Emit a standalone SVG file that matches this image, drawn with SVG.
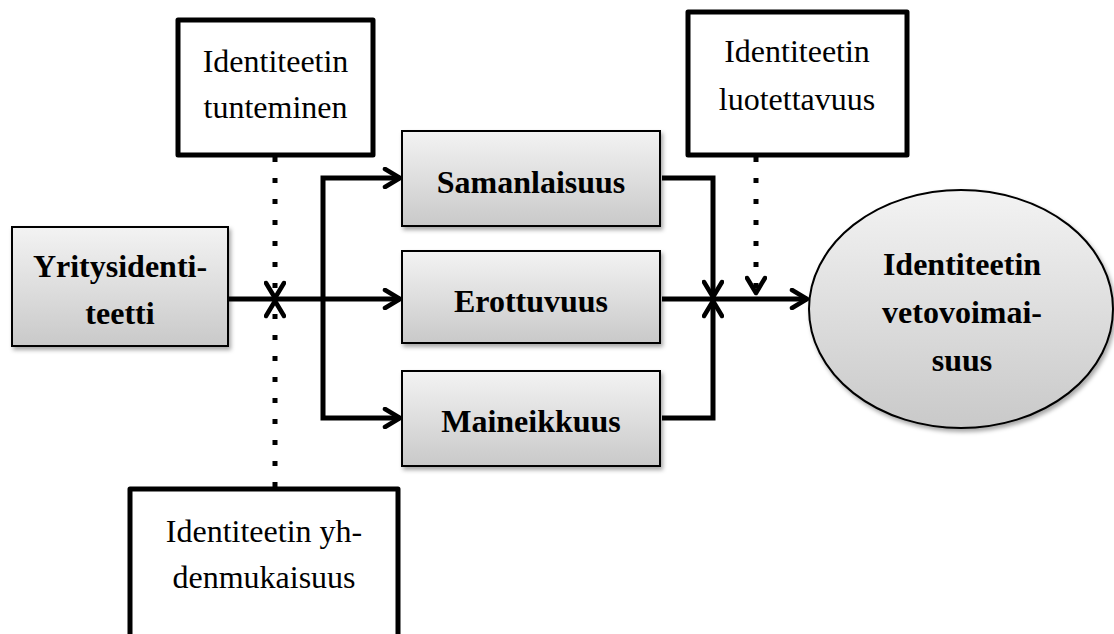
<svg xmlns="http://www.w3.org/2000/svg" width="1114" height="634" viewBox="0 0 1114 634">
  <defs>
    <linearGradient id="grayFill" x1="0" y1="0" x2="0" y2="1">
      <stop offset="0" stop-color="#f3f3f3"/>
      <stop offset="1" stop-color="#c9c9c9"/>
    </linearGradient>
    <filter id="softShadow" x="-10%" y="-10%" width="125%" height="130%">
      <feDropShadow dx="2" dy="3" stdDeviation="2" flood-color="#000" flood-opacity="0.35"/>
    </filter>
    <marker id="chevron" viewBox="0 0 22 22" markerWidth="22" markerHeight="22" refX="19" refY="11" orient="auto" markerUnits="userSpaceOnUse">
      <path d="M4,2 L19,11 L4,20" fill="none" stroke="#000" stroke-width="4.5" stroke-linecap="round" stroke-linejoin="round" stroke-dasharray="none"/>
    </marker>
  </defs>
  <style>
    .factor { fill: #fff; stroke: #000; stroke-width: 5; stroke-linejoin: round; }
    .stage { fill: url(#grayFill); stroke: #000; stroke-width: 2; filter: url(#softShadow); }
    .plain { font-family: "Liberation Serif", "Times New Roman", serif; font-size: 32px; fill: #000; text-anchor: middle; }
    .bold { font-family: "Liberation Serif", "Times New Roman", serif; font-size: 32px; font-weight: bold; fill: #000; text-anchor: middle; }
    .flow { fill: none; stroke: #000; stroke-width: 5; stroke-linejoin: miter; marker-end: url(#chevron); }
    .dotted { fill: none; stroke: #000; stroke-width: 5; stroke-dasharray: 5 16; marker-end: url(#chevron); }
    .plainline { fill: none; stroke: #000; stroke-width: 5; }
  </style>

  <!-- connectors -->
  <g id="connectors">
    <path class="flow" d="M228,299 H400"/>
    <path class="flow" d="M323,299 V178 H400"/>
    <path class="flow" d="M323,299 V418 H400"/>
    <path class="dotted" d="M275,157 V298"/>
    <path class="dotted" d="M275,487 V301"/>
    <path class="flow" d="M662,178 H713 V297"/>
    <path class="flow" d="M662,418 H713 V301"/>
    <path class="flow" d="M662,299 H807"/>
    <path class="dotted" d="M756,157 V293"/>
  </g>

  <g id="tunteminen">
    <rect class="factor" x="178" y="20" width="195" height="135"/>
    <text class="plain" x="275.5" y="72">Identiteetin</text>
    <text class="plain" x="275.5" y="118">tunteminen</text>
  </g>

  <g id="luotettavuus">
    <rect class="factor" x="688" y="12" width="219" height="143"/>
    <text class="plain" x="797" y="62">Identiteetin</text>
    <text class="plain" x="797" y="110">luotettavuus</text>
  </g>

  <g id="yhdenmukaisuus">
    <rect class="factor" x="130" y="489" width="268" height="160"/>
    <text class="plain" x="264" y="542">Identiteetin yh-</text>
    <text class="plain" x="264" y="588">denmukaisuus</text>
  </g>

  <g id="yritysidentiteetti">
    <rect class="stage" x="12" y="227" width="216" height="119"/>
    <text class="bold" x="120" y="277">Yritysidenti-</text>
    <text class="bold" x="120" y="324">teetti</text>
  </g>

  <g id="samanlaisuus">
    <rect class="stage" x="402" y="131" width="258" height="95"/>
    <text class="bold" x="531" y="193">Samanlaisuus</text>
  </g>

  <g id="erottuvuus">
    <rect class="stage" x="402" y="251" width="258" height="92"/>
    <text class="bold" x="531" y="312">Erottuvuus</text>
  </g>

  <g id="maineikkuus">
    <rect class="stage" x="402" y="371" width="258" height="95"/>
    <text class="bold" x="531" y="432">Maineikkuus</text>
  </g>

  <g id="vetovoimaisuus">
    <ellipse class="stage" cx="961" cy="309" rx="152" ry="119"/>
    <text class="bold" x="962" y="275">Identiteetin</text>
    <text class="bold" x="962" y="323">vetovoimai-</text>
    <text class="bold" x="962" y="371">suus</text>
  </g>
</svg>
